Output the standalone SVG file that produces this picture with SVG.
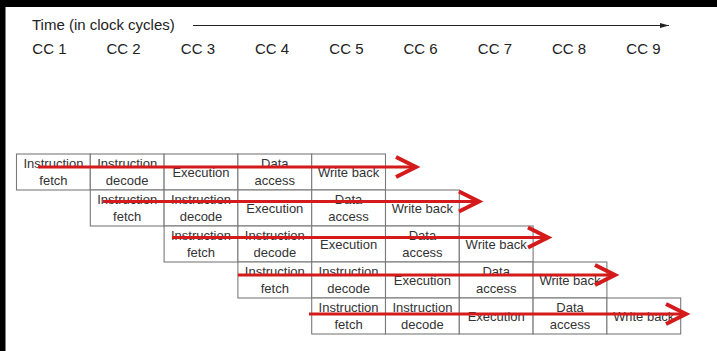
<svg xmlns="http://www.w3.org/2000/svg" width="717" height="351" viewBox="0 0 717 351">
<defs>
<style>
.cell rect{fill:#fff;stroke:#7a7a7a;stroke-width:1.1}
.cell text{font-family:"Liberation Sans",Arial,sans-serif;font-size:13px;fill:#333;text-anchor:middle}
.hdr{font-family:"Liberation Sans",Arial,sans-serif;font-size:15px;fill:#222}
.red{stroke:#d41a1a;fill:none;stroke-width:3.2}
.head{stroke:#d41a1a;fill:none;stroke-width:4;stroke-linejoin:miter}
</style>
<marker id="ah" markerWidth="10" markerHeight="6" refX="9" refY="3" orient="auto" markerUnits="userSpaceOnUse">
<path d="M0,0.5 L9,3 L0,5.5 Z" fill="#222"/>
</marker>
</defs>
<rect x="0" y="0" width="717" height="351" fill="#000"/>
<rect x="5.5" y="7" width="711.5" height="344" fill="#fff"/>

<g id="header">
<text class="hdr" x="32" y="29.5">Time (in clock cycles)</text>
<text class="hdr" x="32.3" y="53.5">CC 1</text>
<text class="hdr" x="106.5" y="53.5">CC 2</text>
<text class="hdr" x="180.8" y="53.5">CC 3</text>
<text class="hdr" x="255" y="53.5">CC 4</text>
<text class="hdr" x="329.3" y="53.5">CC 5</text>
<text class="hdr" x="403.5" y="53.5">CC 6</text>
<text class="hdr" x="477.8" y="53.5">CC 7</text>
<text class="hdr" x="552" y="53.5">CC 8</text>
<text class="hdr" x="626.3" y="53.5">CC 9</text>
</g>

<!-- Row 1 -->
<g id="r1-if" class="cell"><rect x="16.5" y="154" width="73.8" height="36"/><text x="53.4" y="168">Instruction</text><text x="53.4" y="185">fetch</text></g>
<g id="r1-id" class="cell"><rect x="90.3" y="154" width="73.8" height="36"/><text x="127.2" y="168">Instruction</text><text x="127.2" y="185">decode</text></g>
<g id="r1-ex" class="cell"><rect x="164.1" y="154" width="73.8" height="36"/><text x="201" y="176.5">Execution</text></g>
<g id="r1-ma" class="cell"><rect x="237.9" y="154" width="73.8" height="36"/><text x="274.8" y="168">Data</text><text x="274.8" y="185">access</text></g>
<g id="r1-wb" class="cell"><rect x="311.7" y="154" width="73.8" height="36"/><text x="348.6" y="176.5">Write back</text></g>

<!-- Row 2 -->
<g id="r2-if" class="cell"><rect x="90.3" y="190" width="73.8" height="36"/><text x="127.2" y="204">Instruction</text><text x="127.2" y="221">fetch</text></g>
<g id="r2-id" class="cell"><rect x="164.1" y="190" width="73.8" height="36"/><text x="201" y="204">Instruction</text><text x="201" y="221">decode</text></g>
<g id="r2-ex" class="cell"><rect x="237.9" y="190" width="73.8" height="36"/><text x="274.8" y="212.5">Execution</text></g>
<g id="r2-ma" class="cell"><rect x="311.7" y="190" width="73.8" height="36"/><text x="348.6" y="204">Data</text><text x="348.6" y="221">access</text></g>
<g id="r2-wb" class="cell"><rect x="385.5" y="190" width="73.8" height="36"/><text x="422.4" y="212.5">Write back</text></g>

<!-- Row 3 -->
<g id="r3-if" class="cell"><rect x="164.1" y="226" width="73.8" height="36"/><text x="201" y="240">Instruction</text><text x="201" y="257">fetch</text></g>
<g id="r3-id" class="cell"><rect x="237.9" y="226" width="73.8" height="36"/><text x="274.8" y="240">Instruction</text><text x="274.8" y="257">decode</text></g>
<g id="r3-ex" class="cell"><rect x="311.7" y="226" width="73.8" height="36"/><text x="348.6" y="248.5">Execution</text></g>
<g id="r3-ma" class="cell"><rect x="385.5" y="226" width="73.8" height="36"/><text x="422.4" y="240">Data</text><text x="422.4" y="257">access</text></g>
<g id="r3-wb" class="cell"><rect x="459.3" y="226" width="73.8" height="36"/><text x="496.2" y="248.5">Write back</text></g>

<!-- Row 4 -->
<g id="r4-if" class="cell"><rect x="237.9" y="262" width="73.8" height="36"/><text x="274.8" y="276">Instruction</text><text x="274.8" y="293">fetch</text></g>
<g id="r4-id" class="cell"><rect x="311.7" y="262" width="73.8" height="36"/><text x="348.6" y="276">Instruction</text><text x="348.6" y="293">decode</text></g>
<g id="r4-ex" class="cell"><rect x="385.5" y="262" width="73.8" height="36"/><text x="422.4" y="284.5">Execution</text></g>
<g id="r4-ma" class="cell"><rect x="459.3" y="262" width="73.8" height="36"/><text x="496.2" y="276">Data</text><text x="496.2" y="293">access</text></g>
<g id="r4-wb" class="cell"><rect x="533.1" y="262" width="73.8" height="36"/><text x="570" y="284.5">Write back</text></g>

<!-- Row 5 -->
<g id="r5-if" class="cell"><rect x="311.7" y="298" width="73.8" height="36"/><text x="348.6" y="312">Instruction</text><text x="348.6" y="329">fetch</text></g>
<g id="r5-id" class="cell"><rect x="385.5" y="298" width="73.8" height="36"/><text x="422.4" y="312">Instruction</text><text x="422.4" y="329">decode</text></g>
<g id="r5-ex" class="cell"><rect x="459.3" y="298" width="73.8" height="36"/><text x="496.2" y="320.5">Execution</text></g>
<g id="r5-ma" class="cell"><rect x="533.1" y="298" width="73.8" height="36"/><text x="570" y="312">Data</text><text x="570" y="329">access</text></g>
<g id="r5-wb" class="cell"><rect x="606.9" y="298" width="73.8" height="36"/><text x="643.8" y="320.5">Write back</text></g>

<g id="connectors">
<line x1="193" y1="25.5" x2="669" y2="25.5" stroke="#222" stroke-width="1" marker-end="url(#ah)"/>
<line class="red" x1="38" y1="167" x2="413" y2="167"/>
<polyline class="head" points="396,157 416,167 396,177"/>
<line class="red" x1="103" y1="201.5" x2="476" y2="201.5"/>
<polyline class="head" points="459,191.5 479,201.5 459,211.5"/>
<line class="red" x1="172" y1="237.5" x2="545" y2="237.5"/>
<polyline class="head" points="528,227.5 548,237.5 528,247.5"/>
<line class="red" x1="238" y1="275" x2="612" y2="275"/>
<polyline class="head" points="595,265 615,275 595,285"/>
<line class="red" x1="309" y1="314" x2="683" y2="314"/>
<polyline class="head" points="666,304 686,314 666,324"/>
</g>
</svg>
